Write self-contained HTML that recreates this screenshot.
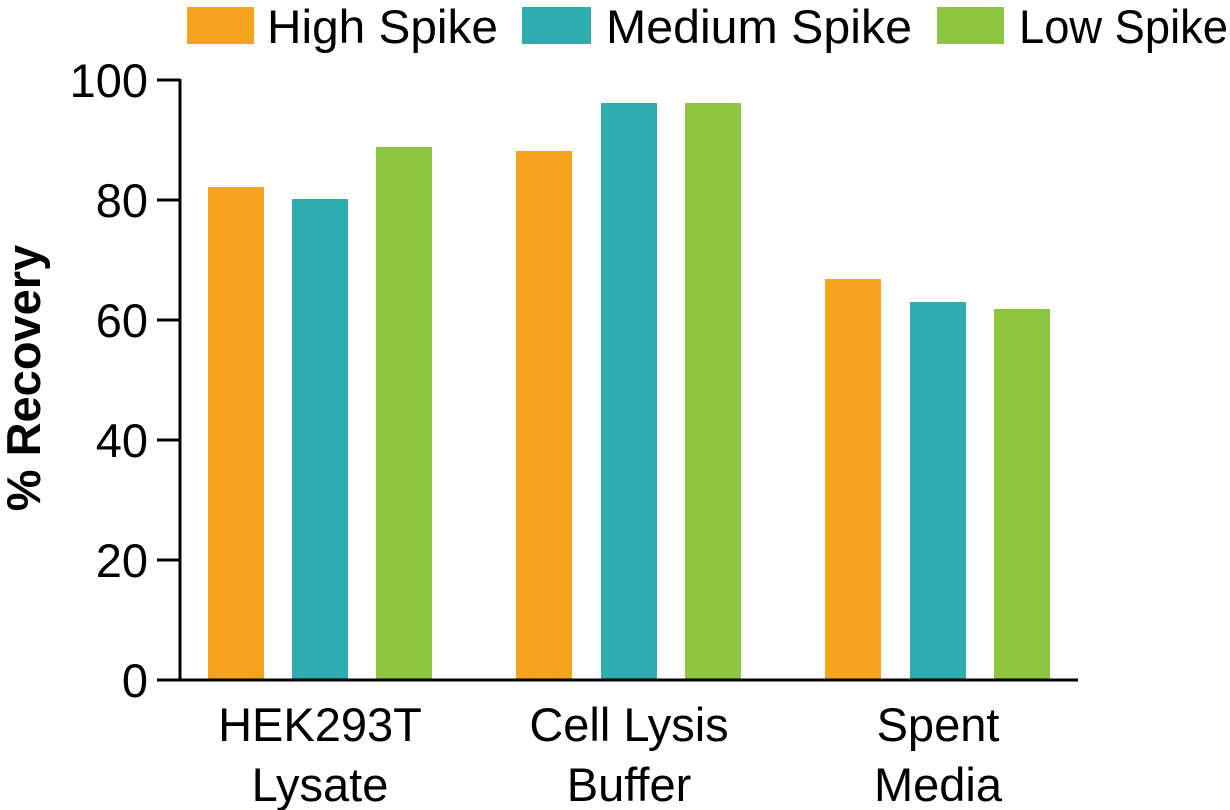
<!DOCTYPE html>
<html><head><meta charset="utf-8"><style>
html,body{margin:0;padding:0;background:#fff;}
svg{display:block;font-family:"Liberation Sans",Arial,sans-serif;}
</style></head><body>
<svg width="1230" height="810" viewBox="0 0 1230 810">
<!-- legend -->
<rect x="187" y="7" width="67" height="37" fill="#F6A31E"/>
<text x="267" y="43" font-size="47" textLength="231" lengthAdjust="spacingAndGlyphs">High Spike</text>
<rect x="522" y="7" width="69" height="37" fill="#2EACAF"/>
<text x="606" y="43" font-size="47" textLength="306" lengthAdjust="spacingAndGlyphs">Medium Spike</text>
<rect x="937" y="7" width="67" height="37" fill="#8CC540"/>
<text x="1019" y="43" font-size="47" textLength="209" lengthAdjust="spacingAndGlyphs">Low Spike</text>
<!-- bars -->
<g>
<rect x="208" y="187" width="56" height="493" fill="#F6A31E"/>
<rect x="292" y="199" width="56" height="481" fill="#2EACAF"/>
<rect x="376" y="147" width="56" height="533" fill="#8CC540"/>
<rect x="516" y="151" width="56" height="529" fill="#F6A31E"/>
<rect x="601" y="103" width="56" height="577" fill="#2EACAF"/>
<rect x="685" y="103" width="56" height="577" fill="#8CC540"/>
<rect x="825" y="279" width="56" height="401" fill="#F6A31E"/>
<rect x="910" y="302" width="56" height="378" fill="#2EACAF"/>
<rect x="994" y="309" width="56" height="371" fill="#8CC540"/>
</g>
<!-- axes -->
<g stroke="#000" stroke-width="3" fill="none">
<line x1="180" y1="79" x2="180" y2="680"/>
<line x1="157" y1="680" x2="1078" y2="680"/>
<line x1="157" y1="80" x2="180" y2="80"/>
<line x1="157" y1="200" x2="180" y2="200"/>
<line x1="157" y1="320" x2="180" y2="320"/>
<line x1="157" y1="440" x2="180" y2="440"/>
<line x1="157" y1="560" x2="180" y2="560"/>
</g>
<g font-size="47" text-anchor="end">
<text x="148" y="97">100</text>
<text x="148" y="217">80</text>
<text x="148" y="337">60</text>
<text x="148" y="457">40</text>
<text x="148" y="577">20</text>
<text x="148" y="697">0</text>
</g>
<text transform="translate(40,378) rotate(-90)" font-size="47" font-weight="bold" text-anchor="middle">% Recovery</text>
<g font-size="47" text-anchor="middle">
<text x="320" y="741">HEK293T</text>
<text x="320" y="801">Lysate</text>
<text x="629" y="741">Cell Lysis</text>
<text x="629" y="801">Buffer</text>
<text x="938" y="741">Spent</text>
<text x="938" y="801">Media</text>
</g>
</svg>
</body></html>
